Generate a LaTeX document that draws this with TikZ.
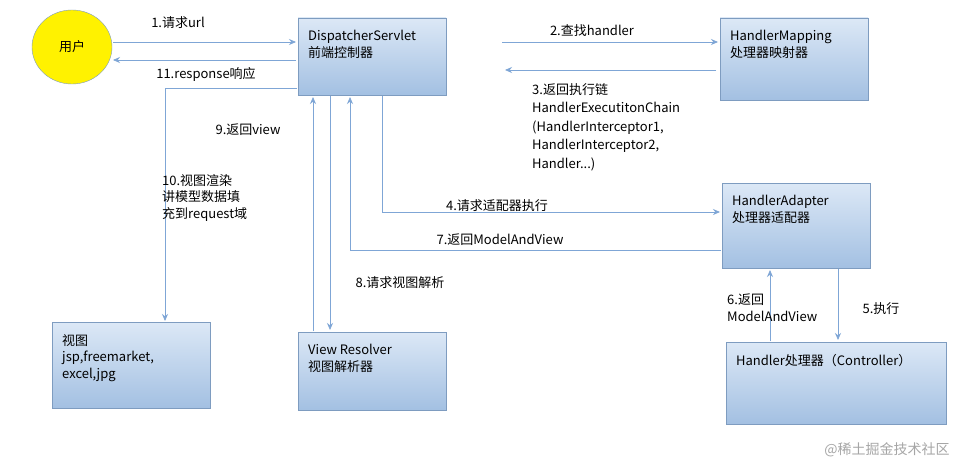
\documentclass[tikz,border=0pt]{standalone}
\usepackage{fontspec}
\setmainfont{Noto Sans CJK SC}
\usetikzlibrary{arrows.meta,shapes.geometric}
\definecolor{ln}{HTML}{7FA6D6}
\definecolor{bd}{HTML}{7E9CC0}
\definecolor{ftop}{HTML}{DCE8F6}
\definecolor{fbot}{HTML}{A3C0E2}
\begin{document}
\begin{tikzpicture}[x=1pt,y=-1pt,
 box/.style={draw=bd,line width=0.8pt,top color=ftop,bottom color=fbot,anchor=north west,align=left,inner sep=0pt},
 txt/.style={font=\fontsize{13}{16.5}\selectfont,align=left,inner sep=0pt},
 arr/.style={draw=ln,line width=0.8pt,-{Stealth[length=7pt,width=6pt]}}]
\useasboundingbox (0,0) rectangle (974,468);
\fill[white] (0,0) rectangle (974,468);
\node[ellipse,draw=bd,fill=yellow,minimum width=80,minimum height=74,font=\fontsize{13}{16}\selectfont] (u) at (72,47) {用户};
\newcommand{\bx}[6]{\path[box] (#2,#3) rectangle (#4,#5); \node[txt,anchor=north west] (#1) at (#2+10,#3+12) {#6}; \coordinate (#1nw) at (#2,#3); \coordinate (#1se) at (#4,#5);}
\bx{ds}{298}{18}{446}{95}{DispatcherServlet\\前端控制器}
\bx{hm}{720}{18}{868}{100}{HandlerMapping\\处理器映射器}
\bx{ha}{722}{183}{870}{268}{HandlerAdapter\\处理器适配器}
\bx{hd}{726}{342}{946}{424}{Handler处理器（Controller）}
\bx{vr}{298}{332}{446}{410}{View Resolver\\视图解析器}
\bx{vw}{52}{322}{210}{408}{视图\\jsp,freemarket,\\excel,jpg}
% 1 / 11
\coordinate (a1) at (113,42); \coordinate (b1) at (296,42);
\draw[arr] (a1) -- (b1);
\node[txt] (l1) at (178,23) {1.请求url};
\coordinate (a11) at (296,60); \coordinate (b11) at (113,60);
\draw[arr] (a11) -- (b11);
\node[txt] (l11) at (206,74) {11.response响应};
% 10
\coordinate (a10) at (297,88); \coordinate (c10) at (165,88); \coordinate (b10) at (165,321);
\draw[arr] (a10) -- (c10) -- (b10);
\node[txt] (l10) at (162,174) [anchor=north west] {10.视图渲染\\讲模型数据填\\充到request域};
% 2 / 3
\coordinate (a2) at (502,42); \coordinate (b2) at (718,42);
\draw[arr] (a2) -- (b2);
\node[txt] (l2) at (592,31) {2.查找handler};
\coordinate (a3) at (716,70); \coordinate (b3) at (505,70);
\draw[arr] (a3) -- (b3);
\node[txt,anchor=north west] (l3) at (532,83) {3.返回执行链\\[2pt]HandlerExecutitonChain\\[2pt](HandlerInterceptor1,\\[2pt]HandlerInterceptor2,\\[2pt]Handler...)};
% 4 / 7
\coordinate (a4) at (382,96); \coordinate (c4) at (382,212); \coordinate (b4) at (720,212);
\draw[arr] (a4) -- (c4) -- (b4);
\node[txt] (l4) at (497,206) {4.请求适配器执行};
\coordinate (a7) at (721,250); \coordinate (c7) at (350,250); \coordinate (b7) at (350,97);
\draw[arr] (a7) -- (c7) -- (b7);
\node[txt] (l7) at (500,240) {7.返回ModelAndView};
% 5 / 6
\coordinate (a5) at (838,269); \coordinate (b5) at (838,340);
\draw[arr] (a5) -- (b5);
\node[txt] (l5) at (881,309) {5.执行};
\coordinate (a6) at (770,341); \coordinate (b6) at (770,270);
\draw[arr] (a6) -- (b6);
\node[txt,anchor=north west] (l6) at (727,294) {6.返回\\ModelAndView};
% 8 / 9
\coordinate (a8) at (330,96); \coordinate (b8) at (330,330);
\draw[arr] (a8) -- (b8);
\node[txt] (l8) at (400,283) {8.请求视图解析};
\coordinate (a9) at (313,331); \coordinate (b9) at (313,97);
\draw[arr] (a9) -- (b9);
\node[txt] (l9) at (248,130) {9.返回view};
\node[txt,text=gray!70,font=\fontsize{14}{16}\selectfont] (wm) at (887,450) {@稀土掘金技术社区};
\end{tikzpicture}
\end{document}
